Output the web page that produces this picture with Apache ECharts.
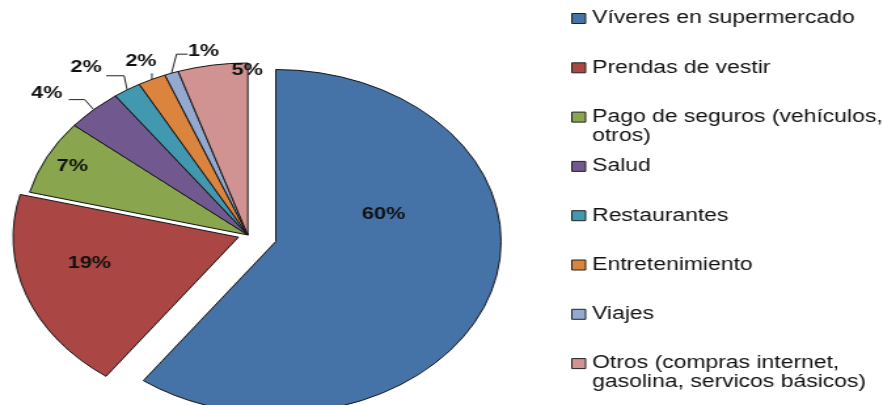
<!DOCTYPE html>
<html>
<head>
<meta charset="utf-8">
<script src="https://cdn.jsdelivr.net/npm/echarts@6/dist/echarts.min.js"></script>
<style>
  html, body { margin: 0; padding: 0; background: #fff; overflow: hidden; }
  /* the chart is laid out narrow and widened horizontally, giving the oval pie */
  #chart { width: 674px; height: 405px; transform: scaleX(1.31); transform-origin: 0 0; }
</style>
</head>
<body>
<div id="chart"></div>
<script>
// Gastos con tarjeta: share of spending by category (%)
const categories = [
  'Víveres en supermercado',
  'Prendas de vestir',
  'Pago de seguros (vehículos, otros)',
  'Salud',
  'Restaurantes',
  'Entretenimiento',
  'Viajes',
  'Otros (compras internet, gasolina, servicos básicos)'
];
const shares = [60, 19, 7, 4, 2, 2, 1, 5];
const legendLabels = [
  'Víveres en supermercado',
  'Prendas de vestir',
  'Pago de seguros (vehículos,\notros)',
  'Salud',
  'Restaurantes',
  'Entretenimiento',
  'Viajes',
  'Otros (compras internet,\ngasolina, servicos básicos)'
];
const colors = ['#4572A7', '#AA4643', '#89A54E', '#71588F', '#4198AF', '#DB843D', '#93A9CF', '#D19392'];

const FONT = '"Liberation Sans", Arial, sans-serif';
const RADIUS = 172;

// The first two slices are pulled out of the pie, each by its own distance,
// so every group of slices gets its own pie centre.
const groups = [
  { members: [0], center: [210.5, 241.5] },
  { members: [1], center: [182, 237.2] },
  { members: [2, 3, 4, 5, 6, 7], center: [189.2, 235] }
];
const outsideLabels = [3, 4, 5, 6];

// Label placement: inside labels are shifted from their default anchor;
// outside labels get a leader line (bend, end) and text offset from the slice edge.
const labelPlacement = {
  0: { text: [-2.3, -55] },
  1: { text: [-30, -3.6] },
  2: { text: [-54.7, -28] },
  3: { bend: [-6.8, -10], end: [-19, -10], text: [-35.8, -16] },
  4: { bend: [-2.3, -14], end: [-16, -14], text: [-31.4, -22] },
  5: { bend: [0, -3], end: [0, -6], text: [-8.4, -18] },
  6: { bend: [3.8, -19], end: [12.2, -19], text: [24.4, -22] },
  7: { text: [13.4, -77] }
};

function placeLabel(params) {
  const p = labelPlacement[params.dataIndex];
  if (!p) return {};
  if (!p.end) {
    const r = params.labelRect;
    return {
      x: r.x + r.width / 2 + p.text[0],
      y: r.y + r.height / 2 + p.text[1],
      align: 'center', verticalAlign: 'middle'
    };
  }
  const pts = params.labelLinePoints;
  if (!pts || !pts.length) return {};
  const e = pts[0];
  return {
    x: e[0] + p.text[0],
    y: e[1] + p.text[1],
    align: 'center', verticalAlign: 'middle',
    labelLinePoints: [
      [e[0], e[1]],
      [e[0] + p.bend[0], e[1] + p.bend[1]],
      [e[0] + p.end[0], e[1] + p.end[1]]
    ]
  };
}

function groupData(members) {
  return categories.map(function (name, i) {
    const own = members.indexOf(i) >= 0;
    const outside = outsideLabels.indexOf(i) >= 0;
    return {
      name: name,
      value: shares[i],
      itemStyle: own
        ? { color: colors[i], borderColor: '#151515', borderWidth: 1 }
        : { color: 'rgba(0,0,0,0)', borderWidth: 0 },
      label: own
        ? { show: true, position: outside ? 'outside' : 'inside' }
        : { show: false },
      labelLine: { show: own && outside }
    };
  });
}

const series = groups.map(function (g) {
  return {
    type: 'pie',
    center: g.center,
    radius: [0, RADIUS],
    startAngle: 90,
    clockwise: true,
    avoidLabelOverlap: false,
    emphasis: { disabled: true },
    label: {
      formatter: '{c}%',
      fontFamily: FONT,
      fontSize: 16.5,
      fontWeight: 'bold',
      color: '#111'
    },
    labelLine: { lineStyle: { color: '#222', width: 1 } },
    labelLayout: function (params) {
      return g.members.indexOf(params.dataIndex) >= 0 ? placeLabel(params) : {};
    },
    data: groupData(g.members)
  };
});

const chart = echarts.init(document.getElementById('chart'));
chart.setOption({
  animation: false,
  backgroundColor: '#fff',
  legend: {
    orient: 'vertical',
    left: 436,
    top: -10,
    padding: 0,
    itemGap: -7.7,
    itemWidth: 10.5,
    itemHeight: 10,
    icon: 'rect',
    selectedMode: false,
    data: categories.map(function (name, i) {
      return { name: name, itemStyle: { color: colors[i], borderColor: '#222', borderWidth: 1 } };
    }),
    formatter: function (name) {
      const t = legendLabels[categories.indexOf(name)];
      // three text rows per entry (blank, first, second) keep the key beside the
      // first row and the entries evenly spaced
      return ' \n' + (t.indexOf('\n') >= 0 ? t : t + '\n ');
    },
    textStyle: {
      fontFamily: FONT,
      fontSize: 17.5,
      color: '#111',
      lineHeight: 19
    }
  },
  series: series
});
</script>
</body>
</html>
